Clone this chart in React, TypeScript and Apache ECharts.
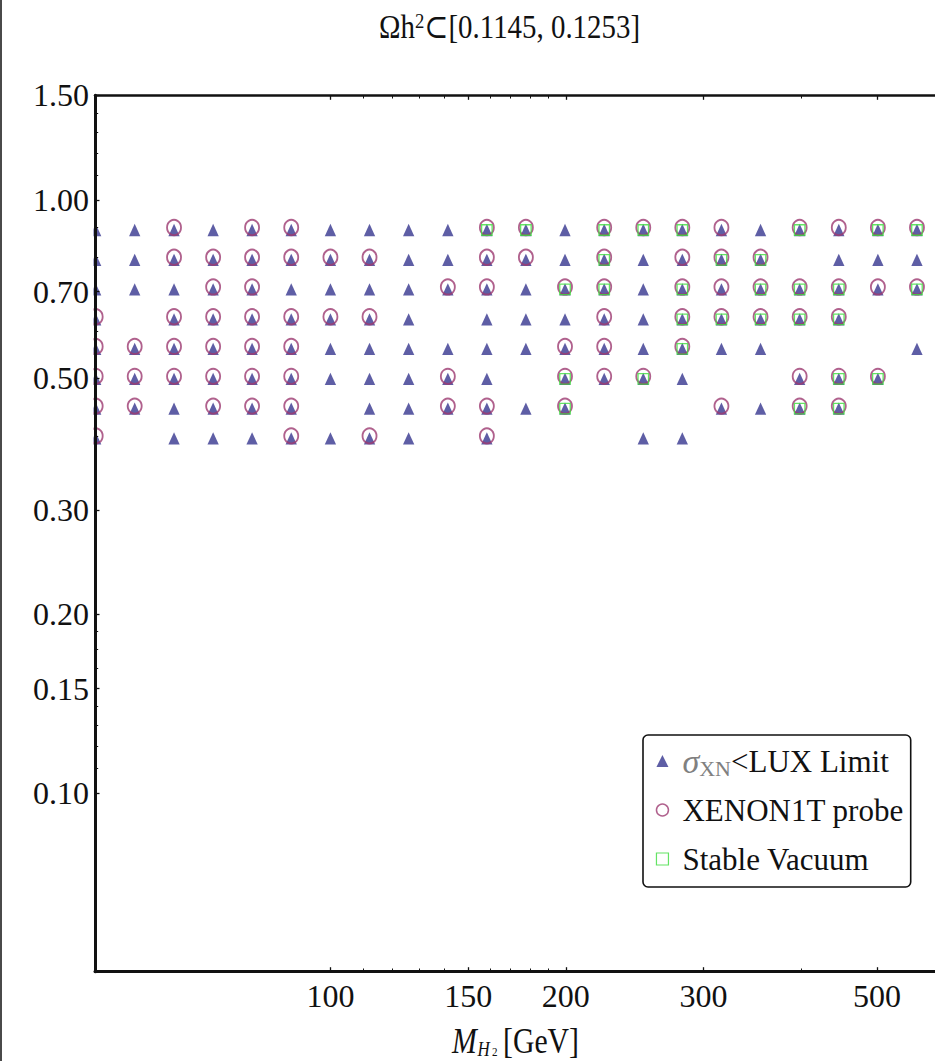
import React, { useEffect, useRef } from "react";
import * as echarts from "echarts";

// Scan grid: dark-matter mass values (GeV) and gauge-coupling values.
const massValues = [
  50.1, 56.2, 63.1, 70.8, 79.4, 89.1, 100, 112.2, 125.9, 141.3, 158.5, 177.8,
  199.5, 223.9, 251.2, 281.8, 316.2, 354.8, 398.1, 446.7, 501.2, 562.3,
];
const couplingValues = [0.898, 0.8, 0.713, 0.635, 0.566, 0.504, 0.449, 0.4];

// One row per coupling value, one character per mass value:
// t = below the LUX limit, c = also within XENON1T reach,
// s = also a stable vacuum, . = no allowed point.
const scanRows = [
  "ttctcctttts" + "stsssctscss",
  "ttccccccttc" + "ctstcss.ttt",
  "tttccttttcc" + "tsstscssscs",
  "c.cccccct.t" + "ttctsssss..",
  "ccccccttttt" + "tcctstt...t",
  "cccccctttct" + ".scst..css.",
  "cctccc.ttcc" + "ts...ctss..",
  "c.tttctct.c" + "...tt......",
];

const xMajorTicks = [100, 150, 200, 300, 500];
const xMinorTicks = [110, 120, 130, 140, 160, 170, 180, 190, 400];
const yMajorTicks = [0.1, 0.15, 0.2, 0.3, 0.5, 0.7, 1.0, 1.5];
const yMinorTicks = [0.11, 0.12, 0.13, 0.14, 0.1625, 0.175, 0.1875, 0.4, 0.6, 0.8, 0.9, 1.1, 1.2, 1.3, 1.4];

const seriesNames = ["σXN<LUX Limit", "XENON1T probe", "Stable Vacuum"];

const luxPoints: number[][] = [];
const xenonPoints: number[][] = [];
const vacuumPoints: number[][] = [];
scanRows.forEach((row, r) => {
  row.split("").forEach((ch, c) => {
    const p = [massValues[c], couplingValues[r]];
    if (ch !== ".") luxPoints.push(p);
    if (ch === "c" || ch === "s") xenonPoints.push(p);
    if (ch === "s") vacuumPoints.push(p);
  });
});

const serif = "'Liberation Serif', 'Times New Roman', 'DejaVu Serif', serif";
const ink = "#111111";
const triColor = "#36368f";
const ringColor = "#9c3a70";
const boxColor = "#3ddc3d";

const X_MIN = 50;
const X_MAX = 600;
const Y_MIN = 0.05;
const Y_MAX = 1.5;

function makeXAxis(position: "top" | "bottom", major: boolean, lineWidth: number) {
  return {
    type: "log",
    logBase: 10,
    min: X_MIN,
    max: X_MAX,
    position,
    z: 10,
    axisLine: { show: major, lineStyle: { color: ink, width: lineWidth } },
    axisTick: {
      show: true,
      inside: true,
      length: major ? 4.5 : 3.2,
      customValues: major ? xMajorTicks : xMinorTicks,
      lineStyle: { color: ink, width: major ? 1.3 : 1 },
    },
    axisLabel: {
      show: major && position === "bottom",
      customValues: xMajorTicks,
      formatter: (v: number) => String(Math.round(v)),
      color: ink,
      fontFamily: serif,
      fontSize: 32,
      margin: 8,
    },
    splitLine: { show: false },
    minorTick: { show: false },
  };
}

function makeYAxis(major: boolean) {
  return {
    type: "log",
    logBase: 10,
    min: Y_MIN,
    max: Y_MAX,
    position: "left",
    z: 10,
    axisLine: { show: major, lineStyle: { color: ink, width: 3 } },
    axisTick: {
      show: true,
      inside: true,
      length: major ? 4.5 : 3.2,
      customValues: major ? yMajorTicks : yMinorTicks,
      lineStyle: { color: ink, width: major ? 1.3 : 1 },
    },
    axisLabel: {
      show: major,
      customValues: yMajorTicks,
      formatter: (v: number) => v.toFixed(2),
      color: ink,
      fontFamily: serif,
      fontSize: 32,
      margin: 6,
    },
    splitLine: { show: false },
    minorTick: { show: false },
  };
}

const option = {
  animation: false,
  backgroundColor: "#ffffff",
  grid: {
    left: 95,
    top: 95.3,
    right: -4,
    bottom: 89.3,
    containLabel: false,
    outerBoundsMode: "none",
  },
  xAxis: [
    makeXAxis("bottom", true, 3),
    makeXAxis("bottom", false, 3),
    makeXAxis("top", true, 2.5),
    makeXAxis("top", false, 2.5),
  ],
  yAxis: [makeYAxis(true), makeYAxis(false)],
  legend: {
    show: true,
    orient: "vertical",
    left: 643,
    top: 735,
    z: 12,
    selectedMode: false,
    itemWidth: 12,
    itemHeight: 12,
    itemGap: 13,
    padding: [8, 7, 10, 12.7],
    backgroundColor: "#ffffff",
    borderColor: ink,
    borderWidth: 1.6,
    borderRadius: 5,
    textStyle: {
      fontFamily: serif,
      fontSize: 31,
      color: ink,
      lineHeight: 36,
      rich: {
        sg: {
          fontFamily: serif,
          fontStyle: "italic",
          fontSize: 34,
          color: "#808080",
          lineHeight: 36,
          padding: [0, 0, 0, 9],
        },
        sub: { fontFamily: serif, fontSize: 22, color: "#808080", lineHeight: 22, verticalAlign: "bottom" },
        tx: { fontFamily: serif, fontSize: 31, color: ink, lineHeight: 36 },
        lead: { fontFamily: serif, fontSize: 31, color: ink, lineHeight: 36, padding: [0, 0, 0, 9] },
      },
    },
    formatter: (name: string) =>
      name === seriesNames[0] ? "{sg|σ}{sub|XN}{tx|<LUX Limit}" : "{lead|" + name + "}",
    data: [
      { name: seriesNames[0], icon: "triangle", itemStyle: { color: triColor, borderWidth: 0 } },
      {
        name: seriesNames[1],
        icon: "circle",
        itemStyle: { color: "rgba(0,0,0,0)", borderColor: ringColor, borderWidth: 1.5 },
      },
      {
        name: seriesNames[2],
        icon: "rect",
        itemStyle: { color: "rgba(0,0,0,0)", borderColor: boxColor, borderWidth: 1.2 },
      },
    ],
  },
  series: [
    {
      name: seriesNames[0],
      type: "scatter",
      data: luxPoints,
      symbol: "triangle",
      symbolSize: [11.3, 12.3],
      symbolOffset: [0, 2.5],
      itemStyle: { color: triColor },
      clip: true,
      silent: true,
      emphasis: { disabled: true },
    },
    {
      name: seriesNames[1],
      type: "scatter",
      data: xenonPoints,
      symbol: "circle",
      symbolSize: [14, 15.2],
      itemStyle: { color: "rgba(0,0,0,0)", borderColor: ringColor, borderWidth: 1.9 },
      clip: true,
      silent: true,
      emphasis: { disabled: true },
    },
    {
      name: seriesNames[2],
      type: "scatter",
      data: vacuumPoints,
      symbol: "rect",
      symbolSize: [10.5, 10.5],
      symbolOffset: [0, 2.5],
      itemStyle: { color: "rgba(0,0,0,0)", borderColor: boxColor, borderWidth: 1.3 },
      clip: true,
      silent: true,
      emphasis: { disabled: true },
    },
  ],
  graphic: [
    // keeps markers sitting on the left frame from spilling outside the plot area
    {
      type: "rect",
      z: 5,
      silent: true,
      shape: { x: 2, y: 80, width: 91.5, height: 900 },
      style: { fill: "#ffffff" },
    },
    // frame edge along the left side of the page
    { type: "rect", z: 6, shape: { x: 0, y: 0, width: 2, height: 1061 }, style: { fill: "#4a4a4a" }, silent: true },
    // title
    {
      type: "text",
      x: 509.5,
      y: 27,
      scaleX: 0.85,
      silent: true,
      style: {
        text: "{a|Ωh}{b|2}{a|⊂[0.1145, 0.1253]}",
        align: "center",
        verticalAlign: "middle",
        rich: {
          a: { fontFamily: serif, fontSize: 34, fill: ink, lineHeight: 36 },
          b: { fontFamily: serif, fontSize: 22, fill: ink, lineHeight: 22, verticalAlign: "top" },
        },
      },
    },
    // x-axis title: M_{H_2}[GeV]
    {
      type: "group",
      silent: true,
      children: [
        {
          type: "text",
          x: 452,
          y: 1041.5,
          scaleX: 0.85,
          style: {
            text: "M", fontFamily: serif, fontStyle: "italic", fontSize: 35, lineHeight: 30,
            fill: ink, align: "left", verticalAlign: "middle",
          },
        },
        {
          type: "text",
          x: 477.5,
          y: 1048.5,
          scaleX: 0.85,
          style: {
            text: "H", fontFamily: serif, fontStyle: "italic", fontSize: 20, lineHeight: 15,
            fill: ink, align: "left", verticalAlign: "middle",
          },
        },
        {
          type: "text",
          x: 492,
          y: 1052,
          scaleX: 0.85,
          style: {
            text: "2", fontFamily: serif, fontSize: 13, lineHeight: 10,
            fill: ink, align: "left", verticalAlign: "middle",
          },
        },
        {
          type: "text",
          x: 503,
          y: 1041.5,
          scaleX: 0.85,
          style: {
            text: "[GeV]", fontFamily: serif, fontSize: 35, lineHeight: 30,
            fill: ink, align: "left", verticalAlign: "middle",
          },
        },
      ],
    },
    // y-axis title: g_X
    {
      type: "group",
      x: 18,
      y: 536,
      rotation: Math.PI / 2,
      silent: true,
      children: [
        {
          type: "text",
          x: -18,
          y: 0,
          scaleX: 0.85,
          style: {
            text: "g", fontFamily: serif, fontStyle: "italic", fontSize: 32, lineHeight: 20,
            fill: ink, align: "left", verticalAlign: "middle",
          },
        },
        {
          type: "text",
          x: -5,
          y: 3,
          scaleX: 0.85,
          style: {
            text: "X", fontFamily: serif, fontStyle: "italic", fontSize: 26, lineHeight: 18,
            fill: ink, align: "left", verticalAlign: "middle",
          },
        },
      ],
    },
  ],
};

export default function App() {
  const ref = useRef<HTMLDivElement>(null);
  useEffect(() => {
    if (!ref.current) return;
    const chart = echarts.init(ref.current, null, { renderer: "svg" });
    chart.setOption(option as any);
    return () => chart.dispose();
  }, []);
  return (
    <div
      ref={ref}
      style={{ position: "absolute", left: 0, top: 0, width: 935, height: 1061, background: "#ffffff" }}
    />
  );
}
